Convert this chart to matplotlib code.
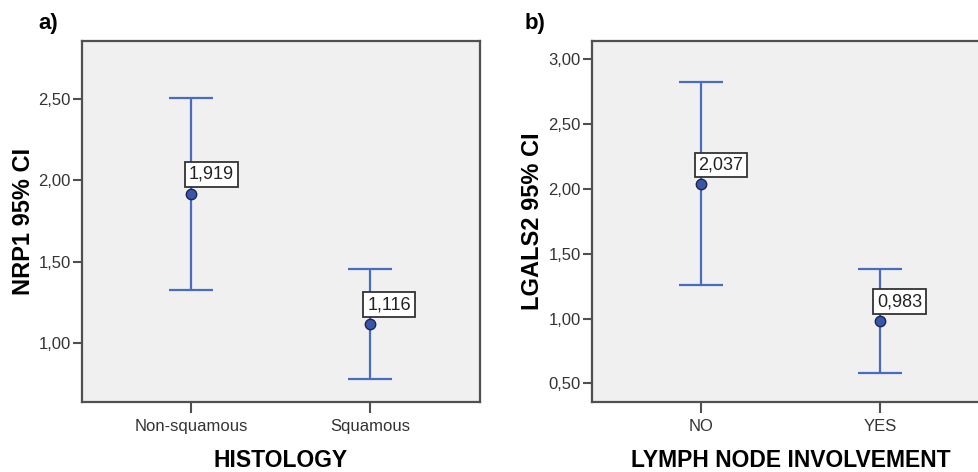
import matplotlib.pyplot as plt

# panel a - NRP1 by histology
hist_cats = ["Non-squamous", "Squamous"]
nrp1_mean = [1.919, 1.116]
nrp1_low = [1.323, 0.775]
nrp1_high = [2.508, 1.456]

# panel b - LGALS2 by lymph node involvement
lymph_cats = ["NO", "YES"]
lgals2_mean = [2.037, 0.983]
lgals2_low = [1.255, 0.577]
lgals2_high = [2.823, 1.383]

plt.rcParams['font.family'] = ['Liberation Sans', 'DejaVu Sans']

line_col = "#4a6cc0"
fig = plt.figure(figsize=(9.79, 4.72), dpi=100)

W = 398 / 979
H = 361 / 472
B = 70 / 472
ax1 = fig.add_axes([82 / 979, B, W, H])
ax2 = fig.add_axes([592 / 979, B, W, H])


def draw(ax, cats, mean, low, high, ylim, yticks, ylabel, xlabel, ylpad):
    x = list(range(len(cats)))
    err = [[m - l for m, l in zip(mean, low)], [h - m for m, h in zip(mean, high)]]
    ax.errorbar(x, mean, yerr=err, fmt='none', ecolor=line_col, elinewidth=1.6,
                capsize=15.5, capthick=1.6, zorder=2)
    ax.plot(x, mean, 'o', ms=7.5, mfc="#3a56a8", mec="#1c2550", mew=1, zorder=4)
    for xi, m in zip(x, mean):
        ax.annotate(f"{m:.3f}".replace(".", ","), (xi, m), xytext=(-2, 10.5),
                    textcoords='offset points', ha='left', va='baseline',
                    fontsize=13, color="#222222", zorder=5,
                    bbox=dict(boxstyle='square,pad=0.22', fc='white', ec='#333333', lw=1.3))
    ax.set_xlim(-0.612, 1.616)
    ax.set_ylim(*ylim)
    ax.set_xticks(x)
    ax.set_xticklabels(cats, fontsize=12, color="#333333")
    ax.set_yticks(yticks)
    ax.set_yticklabels([f"{t:.2f}".replace(".", ",") for t in yticks], fontsize=12, color="#333333")
    ax.set_facecolor("#f0f0f0")
    for s in ax.spines.values():
        s.set_color("#505050")
        s.set_linewidth(1.6)
    ax.tick_params(axis='y', length=6.5, width=1.5, color="#505050", pad=1.5)
    ax.tick_params(axis='x', length=8, width=1.5, color="#505050", pad=4)
    ax.set_ylabel(ylabel, fontsize=17, fontweight='bold', labelpad=ylpad)
    ax.set_xlabel(xlabel, fontsize=16.5, fontweight='bold', labelpad=11)


draw(ax1, hist_cats, nrp1_mean, nrp1_low, nrp1_high, (0.635, 2.859),
     [1.0, 1.5, 2.0, 2.5], "NRP1 95% CI", "HISTOLOGY", 2.5)
draw(ax2, lymph_cats, lgals2_mean, lgals2_low, lgals2_high, (0.356, 3.141),
     [0.5, 1.0, 1.5, 2.0, 2.5, 3.0], "LGALS2 95% CI", "LYMPH NODE INVOLVEMENT", 3)

fig.text(38 / 979, 1 - 23 / 472, "a)", fontsize=16, fontweight='bold', va='center')
fig.text(525 / 979, 1 - 23 / 472, "b)", fontsize=16, fontweight='bold', va='center')

fig.savefig("out.png", dpi=100)
